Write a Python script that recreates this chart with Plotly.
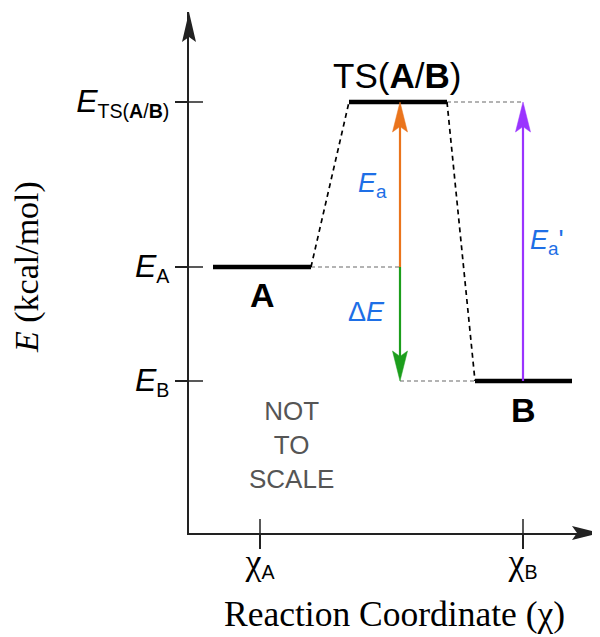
import plotly.graph_objects as go

# ---------------- data (energies in kcal/mol, NOT to scale) ----------------
state_names = ["A", "TS(A/B)", "B"]
state_energy = [0.0, 16.5, -11.4]          # E_A, E_TS, E_B
state_x_start = [2.4, 16.0, 28.6]          # reaction-coordinate extent of each level
state_x_end = [12.2, 25.8, 38.3]
chi_ticks = [7.1, 33.4]                    # chi_A, chi_B
chi_ticklabels = ['<span style="font-family:Liberation Serif;font-size:36px">χ</span><sub>A</sub>',
                  '<span style="font-family:Liberation Serif;font-size:36px">χ</span><sub>B</sub>']
energy_ticklabels = ['<span style="font-size:32px"><i>E</i></span><sub>A</sub>',
                     '<span style="font-size:32px"><i>E</i></span><sub>TS(<b>A</b>/<b>B</b>)</sub>',
                     '<span style="font-size:32px"><i>E</i></span><sub>B</sub>']
gap_x = 21.1                               # where Ea and dE arrows are drawn
x_range = [0, 41.1]
y_range = [-26.6, 25.5]

# ---------------- styles ----------------
AX = "#222222"
ORANGE = "#EA741C"
GREEN = "#1C9E1C"
PURPLE = "#9A34FF"
BLUE = "#1E6FE6"
GRAY = "#9a9a9a"
SANS = "Liberation Sans, Arial, sans-serif"
SERIF = "Liberation Serif, Times New Roman, serif"
HEAD_LEN = 3.0   # data units (10 px per unit)
HEAD_HW = 0.75

EA, ETS, EB = state_energy
fig = go.Figure()


def seg(x0, y0, x1, y1, color, width, dash="solid"):
    fig.add_trace(go.Scatter(x=[x0, x1], y=[y0, y1], mode="lines",
                             line=dict(color=color, width=width, dash=dash),
                             hoverinfo="skip"))


def arrow(x, y0, y1, color, width=2.2):
    s = 1 if y1 > y0 else -1
    seg(x, y0, x, y1 - s * HEAD_LEN * 0.8, color, width)
    fig.add_trace(go.Scatter(
        x=[x, x - HEAD_HW, x, x + HEAD_HW, x],
        y=[y1, y1 - s * HEAD_LEN, y1 - s * HEAD_LEN * 0.82, y1 - s * HEAD_LEN, y1],
        mode="lines", fill="toself", fillcolor=color,
        line=dict(color=color, width=0.5), hoverinfo="skip"))


# gray dashed reference lines
seg(state_x_end[0], EA, gap_x, EA, GRAY, 1.5, "4px,3px")
seg(gap_x, EB, state_x_start[2], EB, GRAY, 1.5, "4px,3px")
seg(state_x_end[1], ETS, chi_ticks[1], ETS, GRAY, 1.5, "4px,3px")

# black dashed connectors
seg(state_x_end[0], EA, state_x_start[1], ETS, "black", 1.7, "5px,4px")
seg(state_x_end[1], ETS, state_x_start[2], EB, "black", 1.7, "5px,4px")

# energy levels
lx, ly = [], []
for xs, xe, e in zip(state_x_start, state_x_end, state_energy):
    lx += [xs, xe, None]
    ly += [e, e, None]
fig.add_trace(go.Scatter(x=lx, y=ly, mode="lines",
                         line=dict(color="black", width=4.5), hoverinfo="skip"))

# arrows
arrow(gap_x, EA, ETS, ORANGE)
arrow(gap_x, EA, EB, GREEN)
arrow(chi_ticks[1], EB, ETS, PURPLE)

# inner halves of the crossing tick marks
for e in state_energy:
    seg(x_range[0], e, x_range[0] + 1.4, e, AX, 1.5)
for c in chi_ticks:
    seg(c, y_range[0], c, y_range[0] + 1.4, AX, 1.5)

# ---------------- annotations ----------------
ann = []
ann.append(dict(x=(state_x_start[1] + state_x_end[1]) / 2, y=ETS, text="TS(<b>A</b>/<b>B</b>)",
                xanchor="center", yanchor="bottom", yshift=5, xshift=-1,
                font=dict(size=35, color="black", family=SANS)))
ann.append(dict(x=(state_x_start[0] + state_x_end[0]) / 2, y=EA, text="<b>A</b>",
                xanchor="center", yanchor="top", yshift=-7,
                font=dict(size=34, color="black", family=SANS)))
ann.append(dict(x=(state_x_start[2] + state_x_end[2]) / 2, y=EB, text="<b>B</b>",
                xanchor="center", yanchor="top", yshift=-8,
                font=dict(size=34, color="black", family=SANS)))
ann.append(dict(x=gap_x, y=(EA + ETS) / 2, text="<i>E</i><sub>a</sub>",
                xanchor="right", yanchor="middle", xshift=-11, yshift=0,
                font=dict(size=27, color=BLUE, family=SANS)))
ann.append(dict(x=gap_x, y=(EA + EB) / 2, text="Δ<i>E</i>",
                xanchor="right", yanchor="middle", xshift=-13, yshift=12,
                font=dict(size=27, color=BLUE, family=SANS)))
ann.append(dict(x=chi_ticks[1], y=(EB + ETS) / 2, text="<i>E</i><sub>a</sub>'",
                xanchor="left", yanchor="middle", xshift=5, yshift=0,
                font=dict(size=27, color=BLUE, family=SANS)))
ann.append(dict(x=10.2, y=-17.8, text="NOT<br>TO<br>SCALE",
                xanchor="center", yanchor="middle",
                font=dict(size=26, color="#555555", family=SANS)))
for a in ann:
    a.update(xref="x", yref="y", showarrow=False)

# axis titles (page has an 8px body margin, so figure px = page px - 8)
PW, PH = 411.0, 521.0
ann.append(dict(xref="paper", yref="paper", x=0.501, y=-(614 - 533) / PH,
                text="Reaction Coordinate (χ)", showarrow=False,
                xanchor="center", yanchor="middle",
                font=dict(size=35.5, color="black", family=SERIF)))
ann.append(dict(xref="paper", yref="paper", x=(27 - 189) / PW, y=(533 - 267) / PH,
                text="<i>E</i> (kcal/mol)", showarrow=False, textangle=-90,
                xanchor="center", yanchor="middle",
                font=dict(size=34, color="black", family=SERIF)))

# axis arrowheads (paper coords)
def p(x, y):
    return f"{x:.5f},{y:.5f}"

hw_x = 7 / PW
hw_y = 7 / PH
yhead = ("M " + p(0, 1) + " L " + p(-hw_x, 1 - 30 / PH) + " L " + p(0, 1 - 25 / PH)
         + " L " + p(hw_x, 1 - 30 / PH) + " Z")
xhead = ("M " + p(1, 0) + " L " + p(1 - 28 / PW, -hw_y) + " L " + p(1 - 23 / PW, 0)
         + " L " + p(1 - 28 / PW, hw_y) + " Z")
shapes = [dict(type="path", xref="paper", yref="paper", path=yhead,
               fillcolor=AX, line=dict(width=0)),
          dict(type="path", xref="paper", yref="paper", path=xhead,
               fillcolor=AX, line=dict(width=0))]

fig.update_layout(
    width=592, height=629,
    margin=dict(l=181, r=0, t=4, b=104),
    paper_bgcolor="white", plot_bgcolor="white",
    showlegend=False,
    annotations=ann, shapes=shapes,
    xaxis=dict(range=x_range, showgrid=False, zeroline=False,
               showline=True, linecolor=AX, linewidth=2,
               ticks="outside", ticklen=14, tickwidth=1.5, tickcolor=AX,
               tickmode="array", tickvals=chi_ticks, ticktext=chi_ticklabels,
               tickfont=dict(size=28, color="black", family=SANS),
               ticklabelstandoff=-9,
               fixedrange=True),
    yaxis=dict(range=y_range, showgrid=False, zeroline=False,
               showline=True, linecolor=AX, linewidth=2,
               ticks="outside", ticklen=12, tickwidth=1.5, tickcolor=AX,
               tickmode="array", tickvals=state_energy, ticktext=energy_ticklabels,
               tickfont=dict(size=28, color="black", family=SANS),
               fixedrange=True),
)

fig.write_html("out.html")
